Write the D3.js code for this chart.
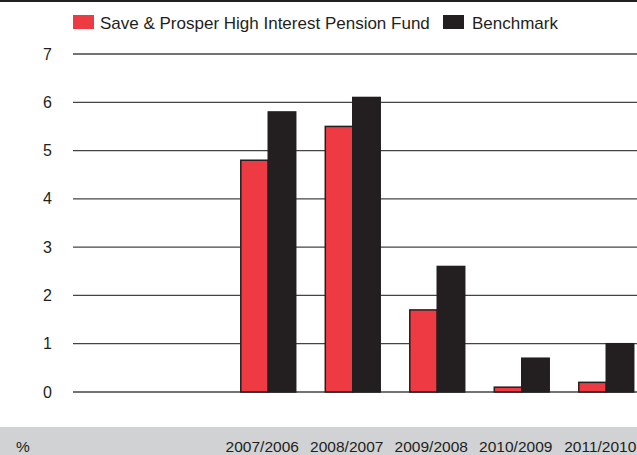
<!DOCTYPE html>
<html>
<head>
<meta charset="utf-8">
<script src="https://cdn.jsdelivr.net/npm/d3@7"></script>
<style>
  body { margin: 0; background: #fff; }
  svg { display: block; font-family: "Liberation Sans", Arial, sans-serif; }
</style>
</head>
<body>
<div class="visHolder"></div>
<script>
// ========================================
// Data
// ========================================
const categories = ['2005/2004', '2006/2005', '2007/2006', '2008/2007', '2009/2008', '2010/2009', '2011/2010'];
const tickLabels = ['', '', '2007/2006', '2008/2007', '2009/2008', '2010/2009', '2011/2010'];
const fundValues = [null, null, 4.8, 5.5, 1.7, 0.1, 0.2];
const benchValues = [null, null, 5.8, 6.1, 2.6, 0.7, 1.0];
const seriesNames = ['Save & Prosper High Interest Pension Fund', 'Benchmark'];
const yTicks = [0, 1, 2, 3, 4, 5, 6, 7];

// ========================================
// Dimensions
// ========================================
const
  width = 637,
  height = 455,
  plotLeft = 73,
  plotTop = 54,
  plotBottom = 392,
  footerTop = 427,
  colors = ['#ee3a43', '#231f20'],
  ink = '#231f20';

const svg = d3.select('.visHolder')
  .append('svg')
    .attr('width', width)
    .attr('height', height);

// top rule
svg.append('rect')
  .attr('x', 0).attr('y', 0)
  .attr('width', width).attr('height', 2)
  .attr('fill', ink);

// grey footer band
svg.append('rect')
  .attr('x', 0).attr('y', footerTop)
  .attr('width', width).attr('height', height - footerTop)
  .attr('fill', '#d1d2d4');

// scales
const xScale = d3.scaleBand()
  .domain(categories)
  .range([57, 57 + 84.5 * categories.length])
  .paddingInner(0.35)
  .paddingOuter(0.175);

const xSub = d3.scaleBand()
  .domain([0, 1])
  .range([0, xScale.bandwidth()]);

const yScale = d3.scaleLinear()
  .domain([0, 7])
  .range([plotBottom, plotTop]);

// gridlines
svg.append('g')
  .selectAll('line')
  .data(yTicks)
  .enter()
  .append('line')
    .attr('x1', plotLeft)
    .attr('x2', width)
    .attr('y1', d => yScale(d))
    .attr('y2', d => yScale(d))
    .attr('stroke', '#444')
    .attr('stroke-width', 1.3);

// y axis labels
const yAxis = svg.append('g')
  .attr('transform', 'translate(52,0)')
  .call(d3.axisLeft(yScale).tickValues(yTicks).tickSize(0).tickPadding(0).tickFormat(d3.format('d')));
yAxis.select('.domain').remove();
yAxis.selectAll('text')
  .attr('fill', ink)
  .style('font-size', '16px')
  .style('font-family', '"Liberation Sans", Arial, sans-serif');

// bars
const rows = categories.map((c, i) => ({ cat: c, vals: [fundValues[i], benchValues[i]] }));

const groups = svg.append('g')
  .selectAll('g')
  .data(rows)
  .enter()
  .append('g')
    .attr('transform', d => 'translate(' + xScale(d.cat) + ',0)');

groups.selectAll('rect')
  .data(d => d.vals.map((v, k) => ({ v: v, k: k })).filter(e => e.v !== null))
  .enter()
  .append('rect')
    .attr('x', d => xSub(d.k))
    .attr('y', d => yScale(d.v))
    .attr('width', xSub.bandwidth())
    .attr('height', d => yScale(0) - yScale(d.v))
    .attr('fill', d => colors[d.k])
    .attr('stroke', ink)
    .attr('stroke-width', 1.5);

// x axis labels in footer
const xAxis = svg.append('g')
  .attr('transform', 'translate(-6,441)')
  .call(d3.axisBottom(xScale).tickSize(0).tickPadding(0).tickFormat((d, i) => tickLabels[i]));
xAxis.select('.domain').remove();
xAxis.selectAll('text')
  .attr('fill', ink)
  .style('font-size', '15.5px')
  .style('font-family', '"Liberation Sans", Arial, sans-serif');

svg.append('text')
  .attr('x', 16)
  .attr('y', 452)
  .attr('fill', ink)
  .style('font-size', '15.5px')
  .text('%');

// legend
const legendX = [73, 443];
const legend = svg.append('g')
  .selectAll('g')
  .data(seriesNames)
  .enter()
  .append('g')
    .attr('transform', (d, i) => 'translate(' + legendX[i] + ',15)');

legend.append('rect')
  .attr('width', 21)
  .attr('height', 14)
  .attr('fill', (d, i) => colors[i]);

legend.append('text')
  .attr('x', (d, i) => i === 0 ? 27 : 29)
  .attr('y', 13.5)
  .attr('fill', ink)
  .style('font-size', '17px')
  .text(d => d);
</script>
</body>
</html>
